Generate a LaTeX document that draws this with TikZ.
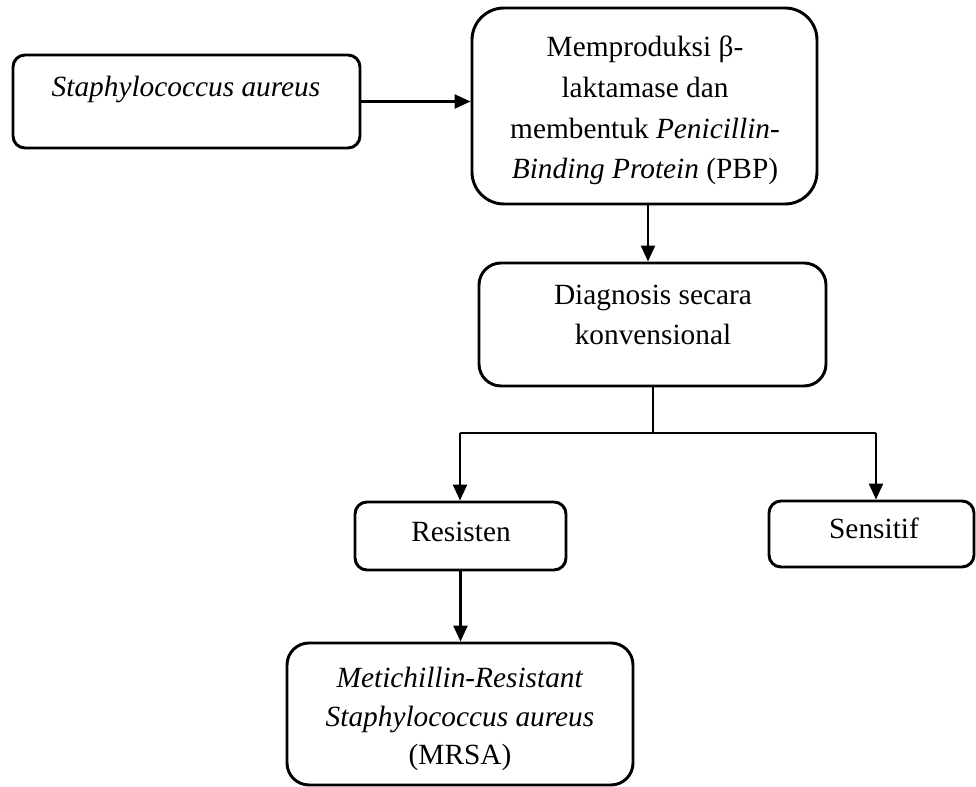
\documentclass[tikz,border=0pt]{standalone}
\usepackage{fontspec}
\setmainfont{Liberation Serif}
\usetikzlibrary{arrows.meta}
\begin{document}
\begin{tikzpicture}[x=0.75pt,y=-0.75pt,
  box/.style={draw=black,line width=2.2pt,inner sep=0pt,rectangle},
  txt/.style={inner sep=0pt,anchor=base,align=center,font=\fontsize{22pt}{30.5pt}\selectfont},
  arr/.style={line width=1.8pt,-{Triangle[length=12pt,width=10.5pt]}},
  thin/.style={line width=0.8pt}]
\useasboundingbox (0,0) rectangle (976,787);
% boxes
\node[box,rounded corners=9pt,minimum width=260.25pt,minimum height=69.75pt] (b1) at (186.5,101.5) {};
\node[box,rounded corners=24pt,minimum width=258.75pt,minimum height=147pt] (b2) at (644.5,106) {};
\node[box,rounded corners=16.5pt,minimum width=260.25pt,minimum height=92.25pt] (b3) at (652.5,324.5) {};
\node[box,rounded corners=9pt,minimum width=158.25pt,minimum height=51pt] (b4) at (460.5,536) {};
\node[box,rounded corners=9pt,minimum width=153.75pt,minimum height=49.5pt] (b5) at (871.5,534) {};
\node[box,rounded corners=16.5pt,minimum width=259.5pt,minimum height=106.5pt] (b6) at (460,714) {};
% texts (base anchor = baseline of the last line)
\node[txt] (t1) at (186,97) {\textit{Staphylococcus aureus}};
\node[txt] (t2) at (645,179) {Memproduksi β-\\laktamase dan\\membentuk \textit{Penicillin-}\\\textit{Binding Protein} (PBP)};
\node[txt] (t3) at (653,345) {Diagnosis secara\\konvensional};
\node[txt] (t4) at (461,542) {Resisten};
\node[txt] (t5) at (874,539) {Sensitif};
\node[txt,font=\fontsize{22pt}{29pt}\selectfont] (t6) at (460,765) {\textit{Metichillin-Resistant}\\\textit{Staphylococcus aureus}\\(MRSA)};
% connectors
\coordinate (c2) at (648,0);
\coordinate (jl) at (460,433);
\coordinate (jr) at (876,433);
\coordinate (jm) at (653,433);
\draw[arr] (b1.east) -- (b1.east -| b2.west);
\draw[arr] (b2.south -| c2) -- (b3.north -| c2);
\draw[thin] (b3.south -| jm) -- (jm);
\draw[thin] (jl) -- (jr);
\draw[arr] (jl) -- (b4.north -| jl);
\draw[arr] (jr) -- (b5.north -| jr);
\draw[arr] (b4.south) -- (b6.north -| b4.south);
\end{tikzpicture}
\end{document}
